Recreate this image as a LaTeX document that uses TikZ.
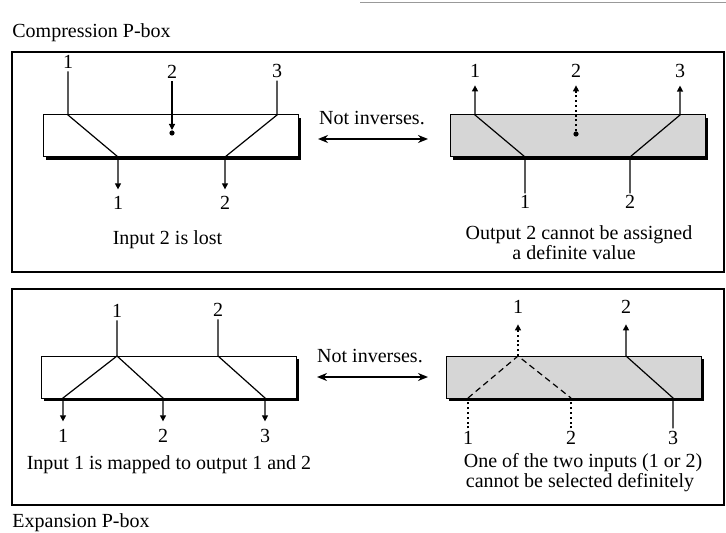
\documentclass[tikz,border=0pt]{standalone}
\usepackage{fontspec}
\setmainfont{Liberation Serif}
\usetikzlibrary{arrows.meta,shadows}

\definecolor{boxgray}{gray}{0.84}

\tikzset{
  txt/.style={font=\fontsize{10}{12}\selectfont, inner sep=0pt},
  num/.style={txt, inner sep=1pt, anchor=base},
  pbox/.style={draw, line width=0.5pt, minimum width=127.5pt, minimum height=21pt,
    inner sep=0pt, fill=white,
    drop shadow={fill=black, opacity=1, shadow xshift=1.6pt, shadow yshift=-1.6pt}},
  panel/.style={line width=0.8pt},
  wire/.style={line width=0.6pt},
  dotwire/.style={wire, dash pattern=on 1pt off 1.4pt},
  dashwire/.style={wire, dash pattern=on 3pt off 2pt},
  arr/.style={-{Triangle[length=3pt,width=3pt]}},
  shortgap/.style={shorten >=#1}, shortgap/.default=2.5pt,
  blob/.style={circle, fill, inner sep=0pt, minimum size=2.6pt},
  inv/.style={line width=1pt, {Stealth[length=5pt,width=4pt]}-{Stealth[length=5pt,width=4pt]}}
}

\begin{document}
\begin{tikzpicture}[x=0.5pt, y=-0.5pt]
\useasboundingbox (0,0) rectangle (726,533);

% Line left over at the top
\draw[black!40, line width=0.5pt] (360,3) -- (726,3);

% Panels
\draw[panel] (12,52) rectangle (724,272);
\draw[panel] (12,289) rectangle (724,505);
\node[txt, anchor=base west] (ctitle) at (12,38) {Compression P-box};
\node[txt, anchor=base west] (etitle) at (12,527) {Expansion P-box};

% Compression P-box
\node[pbox] (cbox) at (170.5,136) {};
\coordinate (ct1) at (68,115);
\coordinate (ct3) at (277,115);
\coordinate (cb1) at (118,157);
\coordinate (cb2) at (225,157);
\node[blob] (cdot) at (172,133) {};
\node[num] (ci1) at (68,69) {1};
\node[num] (ci2) at (172,79) {2};
\node[num] (ci3) at (277,78) {3};
\node[num] (co1) at (118,210) {1};
\node[num] (co2) at (225,210) {2};
\draw[wire, arr, shortgap] (ci1.south) -- (ct1) -- (cb1) -- (co1.north);
\draw[wire, arr, shortgap] (ci3.south) -- (ct3) -- (cb2) -- (co2.north);
\draw[wire, arr] (ci2.south) -- (cdot.north);
\node[txt, anchor=base] (clost) at (167.5,245) {Input 2 is lost};

% Not inverses (top)
\node[txt, anchor=base] (cnot) at (372,125) {Not inverses.};
\coordinate (cl) at (318,139);
\coordinate (cr) at (428,139);
\draw[inv] (cl) -- (cr);

% Its inverse
\node[pbox, fill=boxgray] (dbox) at (577.5,136) {};
\coordinate (dt1) at (475,115);
\coordinate (dt3) at (680,115);
\coordinate (db1) at (525,157);
\coordinate (db2) at (630,157);
\node[blob] (ddot) at (576,134) {};
\node[num] (do1) at (475,78) {1};
\node[num] (do2) at (576,78) {2};
\node[num] (do3) at (680,78) {3};
\node[num] (di1) at (525,209) {1};
\node[num] (di2) at (630,209) {2};
\draw[wire, arr, shortgap] (di1.north) -- (db1) -- (dt1) -- (do1.south);
\draw[wire, arr, shortgap] (di2.north) -- (db2) -- (dt3) -- (do3.south);
\draw[dotwire, arr, shortgap] (ddot.north) -- (do2.south);
\node[txt, anchor=base] (dcant) at (579,240) {Output 2 cannot be assigned};
\node[txt, anchor=base] (dval) at (574,260) {a definite value};

% Expansion P-box
\node[pbox] (ebox) at (168.5,377) {};
\coordinate (et1) at (117,356);
\coordinate (et2) at (218,356);
\coordinate (eb1) at (63,398);
\coordinate (eb2) at (163,398);
\coordinate (eb3) at (265,398);
\node[num] (ei1) at (117,318) {1};
\node[num] (ei2) at (218,317) {2};
\node[num] (eo1) at (63,442) {1};
\node[num] (eo2) at (163,442) {2};
\node[num] (eo3) at (265,442) {3};
\draw[wire, arr, shortgap] (ei1.south) -- (et1) -- (eb1) -- (eo1.north);
\draw[wire, arr, shortgap] (et1) -- (eb2) -- (eo2.north);
\draw[wire, arr, shortgap] (ei2.south) -- (et2) -- (eb3) -- (eo3.north);
\node[txt, anchor=base] (emap) at (169,469) {Input 1 is mapped to output 1 and 2};

% Not inverses (bottom)
\node[txt, anchor=base] (enot) at (370,362) {Not inverses.};
\coordinate (el) at (317,377);
\coordinate (er) at (428,377);
\draw[inv] (el) -- (er);

% Its inverse
\node[pbox, fill=boxgray] (fbox) at (573.5,377) {};
\coordinate (ft1) at (518,356);
\coordinate (ft2) at (626,356);
\coordinate (fb1) at (468,398);
\coordinate (fb2) at (571,398);
\coordinate (fb3) at (673,398);
\node[num] (fo1) at (518,314) {1};
\node[num] (fo2) at (626,314) {2};
\node[num] (fi1) at (468,444) {1};
\node[num] (fi2) at (571,444) {2};
\node[num] (fi3) at (673,444) {3};
\draw[dashwire] (fb1) -- (ft1) -- (fb2);
\draw[dotwire] (fi1.north) -- (fb1);
\draw[dotwire] (fi2.north) -- (fb2);
\draw[dotwire, arr, shortgap=4pt] (ft1) -- (fo1.south);
\draw[wire, arr, shortgap=4pt] (fi3.north) -- (fb3) -- (ft2) -- (fo2.south);
\node[txt, anchor=base] (fone) at (583,467) {One of the two inputs (1 or 2)};
\node[txt, anchor=base] (fsel) at (580,487) {cannot be selected definitely};
\end{tikzpicture}
\end{document}
